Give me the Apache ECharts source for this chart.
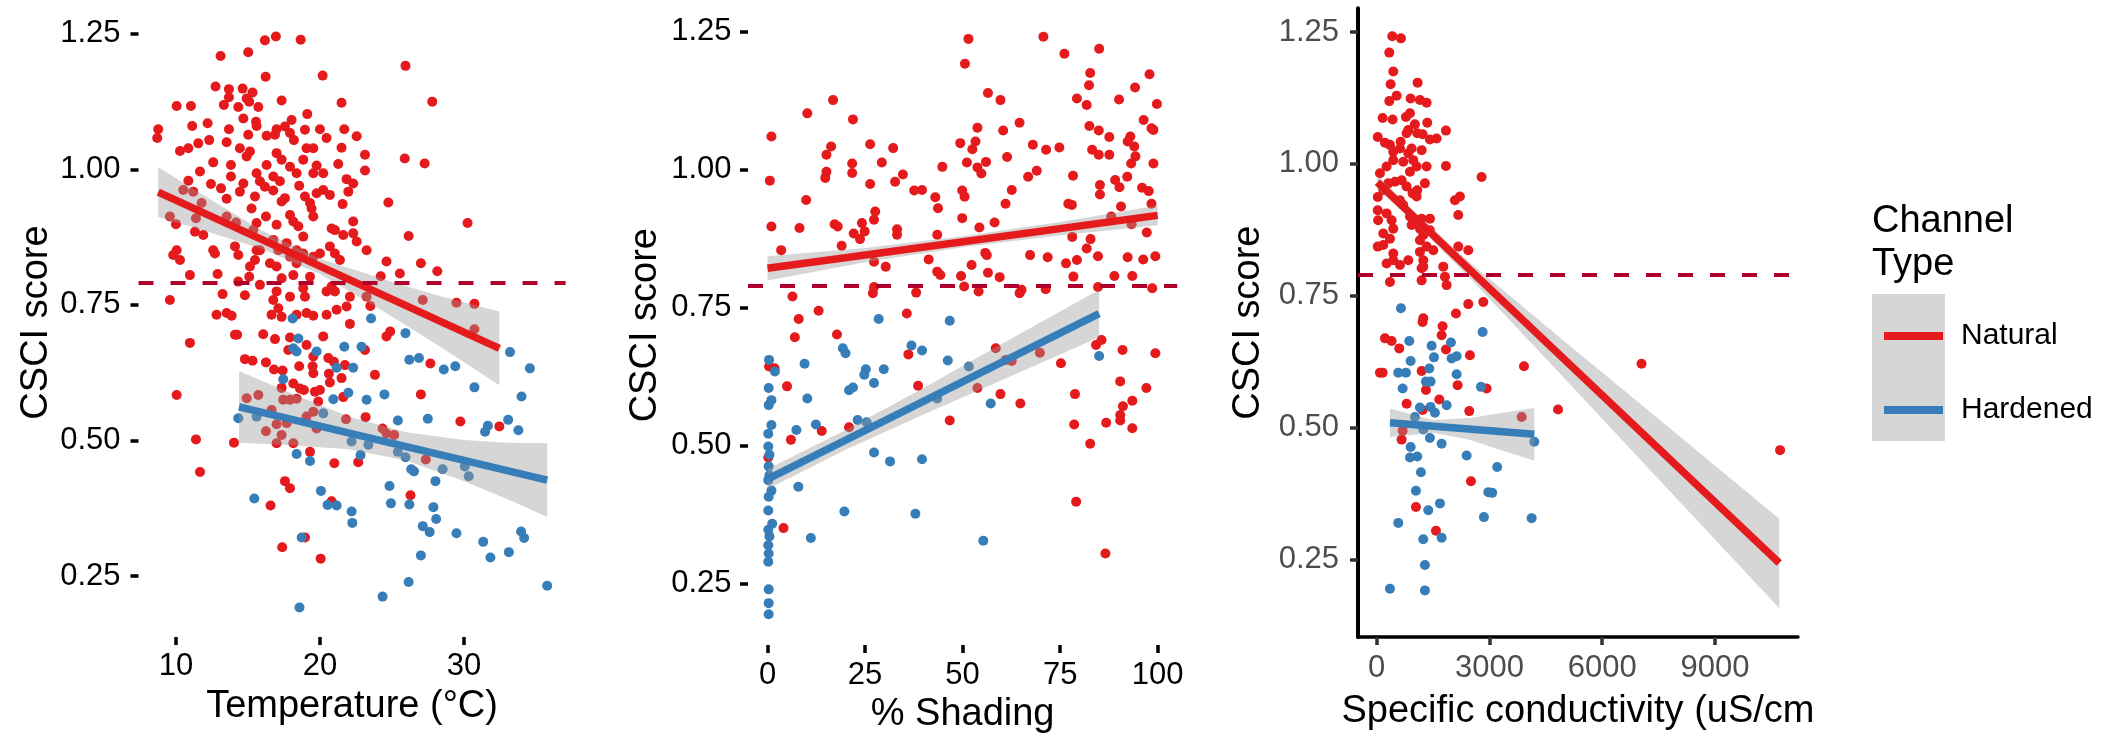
<!DOCTYPE html>
<html><head><meta charset="utf-8">
<script src="https://cdn.jsdelivr.net/npm/echarts@6/dist/echarts.min.js"></script>
<style>html,body{margin:0;padding:0;background:#fff}#chart{width:2115px;height:739px}</style>
</head><body><div id="chart"></div>
<script>
// ---------------- DATA ----------------
const yTicks = [0.25, 0.5, 0.75, 1.0, 1.25];
const tempTicks = [10, 20, 30];
const shadeTicks = [0, 25, 50, 75, 100];
const condTicks = [0, 3000, 6000, 9000];
const threshold = 0.79;

// Panel 1: Temperature (°C) vs CSCI score
const tempNatural = [
[16.18,1.238],[16.94,1.245],[18.66,1.239],[13.10,1.209],[15.02,1.216],[16.23,1.171],[20.19,1.173],[12.75,1.153],[13.68,1.148],[14.63,1.149],[15.32,1.142],[13.68,1.133],[14.91,1.131],[17.34,1.127],[21.50,1.123],[10.05,1.117],[11.04,1.117],[13.33,1.119],[14.33,1.115],[15.09,1.125],[15.72,1.115],[19.12,1.102],[14.68,1.094],[15.56,1.088],[18.03,1.091],[8.77,1.074],[8.70,1.058],[11.13,1.080],[12.20,1.085],[13.68,1.074],[15.02,1.064],[15.60,1.080],[16.99,1.074],[17.57,1.079],[18.96,1.073],[20.00,1.074],[21.69,1.074],[22.55,1.061],[10.28,1.034],[10.86,1.039],[11.55,1.048],[12.31,1.054],[13.52,1.050],[14.44,1.039],[16.30,1.062],[16.88,1.064],[17.92,1.067],[18.19,1.054],[19.54,1.039],[19.07,1.039],[20.46,1.058],[21.50,1.040],[23.13,1.027],[12.59,1.013],[11.67,0.996],[13.82,1.008],[14.91,1.024],[15.14,1.033],[16.99,1.030],[17.34,1.018],[17.92,1.005],[16.30,1.008],[18.84,1.018],[19.77,1.007],[20.23,0.993],[21.27,1.010],[23.13,0.998],[10.86,0.979],[12.43,0.973],[13.13,0.965],[13.82,0.987],[14.68,0.974],[15.60,0.993],[15.83,0.978],[16.76,0.987],[17.22,0.978],[18.38,0.993],[18.56,0.970],[19.54,0.993],[19.77,0.956],[20.23,0.962],[20.69,0.953],[21.85,0.982],[22.31,0.974],[21.97,0.959],[10.51,0.962],[11.20,0.959],[11.78,0.938],[13.52,0.946],[14.44,0.959],[15.49,0.950],[16.18,0.968],[16.76,0.961],[17.34,0.941],[17.57,0.947],[18.96,0.950],[19.31,0.938],[19.42,0.928],[19.54,0.913],[21.57,0.936],[9.58,0.913],[10.00,0.899],[11.39,0.910],[11.32,0.885],[11.90,0.879],[13.52,0.913],[14.17,0.902],[15.25,0.928],[15.60,0.901],[16.25,0.913],[16.99,0.898],[17.92,0.916],[18.15,0.904],[18.50,0.895],[18.84,0.876],[20.81,0.891],[21.04,0.888],[21.62,0.879],[22.31,0.904],[22.31,0.882],[22.55,0.867],[10.05,0.851],[9.81,0.842],[10.28,0.833],[12.59,0.851],[12.71,0.845],[14.10,0.858],[14.33,0.842],[15.37,0.888],[15.60,0.851],[15.49,0.833],[15.83,0.851],[16.76,0.870],[17.11,0.851],[17.69,0.864],[17.92,0.839],[18.38,0.851],[18.84,0.845],[19.54,0.839],[20.00,0.845],[20.69,0.858],[21.04,0.845],[21.39,0.833],[23.24,0.851],[10.97,0.805],[12.89,0.807],[14.33,0.793],[15.09,0.802],[15.14,0.821],[15.83,0.787],[16.53,0.827],[16.99,0.821],[17.34,0.799],[18.15,0.805],[18.38,0.827],[19.31,0.802],[20.81,0.784],[22.08,0.765],[23.24,0.765],[9.58,0.759],[13.24,0.770],[14.79,0.768],[16.76,0.759],[16.99,0.775],[17.92,0.765],[18.96,0.765],[18.84,0.781],[20.46,0.775],[21.04,0.775],[12.82,0.732],[13.52,0.735],[13.87,0.730],[16.64,0.732],[17.11,0.744],[17.34,0.728],[18.38,0.732],[19.07,0.735],[19.54,0.730],[20.46,0.732],[21.16,0.741],[21.85,0.747],
[22.08,0.715],[10.97,0.680],[14.10,0.695],[14.25,0.695],[16.06,0.696],[16.88,0.687],[17.92,0.690],[19.07,0.676],[20.23,0.692],[17.80,0.667],[23.13,0.667],[14.79,0.650],[15.32,0.647],[16.25,0.644],[16.81,0.631],[17.41,0.629],[18.56,0.637],[19.54,0.655],[19.49,0.637],[19.54,0.624],[20.58,0.652],[20.97,0.645],[21.74,0.639],[18.15,0.605],[17.34,0.597],[18.61,0.596],[18.89,0.593],[20.69,0.607],[21.50,0.615],[20.62,0.623],[19.65,0.590],[20.00,0.593],[19.88,0.572],[21.62,0.580],[10.05,0.584],[14.91,0.578],[15.72,0.584],[17.45,0.575],[17.92,0.575],[18.38,0.577],[16.64,0.556],[16.99,0.530],[16.25,0.517],[17.34,0.510],[16.99,0.495],[18.15,0.495],[17.69,0.532],[19.07,0.544],[19.54,0.553],[19.77,0.522],[21.81,0.539],[23.17,0.543],[11.39,0.502],[14.03,0.496],[19.31,0.479],[21.00,0.458],[22.66,0.460],[11.67,0.442],[17.57,0.425],[17.92,0.412],[16.57,0.380],[20.81,0.388],[18.96,0.321],[17.38,0.303],[20.05,0.282],
[25.94,1.191],[27.80,1.125],[25.89,1.020],[27.27,1.011],[24.75,0.939],[30.25,0.901],[26.16,0.877],[27.01,0.827],[28.15,0.812],[25.55,0.808],[24.22,0.803],[24.62,0.830],[27.14,0.759],[29.48,0.754],[30.73,0.752],[30.73,0.705],[23.50,0.748],[24.88,0.701],[24.62,0.692],[27.67,0.642],
[23.82,0.621],[27.01,0.585],[29.75,0.535],[32.46,0.526],[24.35,0.522],[24.62,0.513],[25.15,0.510],[27.35,0.465],[26.29,0.399]
];
const tempHardened = [
[18.10,0.725],[18.50,0.688],[18.15,0.670],[18.38,0.664],[19.77,0.664],[21.69,0.673],[22.89,0.673],[21.16,0.634],[22.31,0.634],[17.45,0.613],[21.97,0.588],[20.93,0.576],[23.24,0.575],[14.33,0.541],[15.60,0.544],[20.23,0.550],[22.20,0.498],[23.36,0.492],[18.38,0.475],[19.31,0.462],[22.82,0.473],[20.07,0.407],[15.44,0.393],[20.53,0.381],[21.16,0.380],[22.20,0.369],[22.25,0.348],[18.73,0.321],[23.55,0.725],[25.94,0.698],[26.21,0.649],[26.88,0.652],[28.60,0.631],[29.40,0.637],[33.20,0.663],[34.58,0.633],[24.48,0.585],[30.73,0.598],[34.00,0.581],[25.41,0.537],[27.49,0.540],[31.47,0.516],[31.66,0.527],[33.07,0.538],[33.78,0.519],[25.41,0.479],[25.94,0.469],[26.34,0.447],[26.53,0.443],[28.52,0.447],[30.06,0.452],[30.33,0.434],[28.02,0.425],[24.83,0.416],[24.93,0.384],[26.21,0.382],[27.88,0.377],[28.07,0.355],[27.14,0.342],[27.62,0.331],[29.48,0.329],[31.34,0.313],[31.84,0.284],[33.12,0.294],[33.97,0.332],[34.18,0.320],[27.01,0.288],[26.16,0.239],[24.35,0.212],[35.78,0.232],[18.58,0.192]
];
const tempFitNatural = [[8.77,0.958],[32.46,0.670]];
const tempFitHardened = [[14.38,0.562],[35.78,0.427]];
const tempBandNatural = [[8.77,0.912,1.004],[12,0.887,0.951],[16,0.853,0.887],[20,0.807,0.835],[24,0.745,0.801],[28,0.679,0.769],[32.46,0.602,0.738]];
const tempBandHardened = [[14.38,0.496,0.628],[18,0.491,0.587],[22,0.484,0.544],[26,0.463,0.515],[30,0.425,0.501],[33,0.392,0.496],[35.78,0.359,0.495]];

// Panel 2: % Shading vs CSCI score
const shadeNatural = [
[51.5,1.237],[70.7,1.241],[50.6,1.192],[76.1,1.210],[85.0,1.219],[97.9,1.173],[82.7,1.175],[82.4,1.153],[94.2,1.149],[16.8,1.126],[10.2,1.102],[21.9,1.091],[56.5,1.139],[59.7,1.126],[79.3,1.129],[81.8,1.117],[90.1,1.127],[99.8,1.119],
[1.0,1.060],[53.8,1.076],[64.6,1.085],[60.4,1.071],[82.5,1.079],[84.9,1.071],[87.6,1.059],[96.4,1.090],[98.4,1.075],[93.0,1.060],[92.3,1.051],[94.0,1.042],[98.9,1.072],[49.4,1.048],[53.3,1.051],[52.5,1.037],[68.0,1.045],[71.4,1.036],[74.8,1.040],[16.3,1.042],[15.1,1.027],[26.3,1.046],[32.2,1.039],[83.2,1.036],[84.9,1.027],[87.6,1.027],[94.3,1.024],[21.7,1.011],[21.7,0.994],[29.3,1.013],[44.8,1.005],[51.1,1.013],[56.0,1.014],[53.8,1.004],[54.8,0.993],[61.4,1.023],[69.0,0.998],[66.8,0.987],[93.2,1.011],[92.2,0.987],[98.9,1.011],[78.3,0.989],[0.6,0.980],[15.1,0.996],[14.8,0.985],[34.7,0.991],[32.7,0.978],[26.3,0.974],[37.6,0.962],[39.6,0.963],[43.0,0.950],[43.7,0.930],[49.9,0.962],[50.5,0.951],[62.6,0.963],[61.0,0.938],[85.2,0.972],[85.2,0.955],[89.1,0.981],[90.2,0.968],[90.6,0.933],[96.0,0.967],[97.7,0.961],[77.1,0.938],[78.0,0.936],[98.4,0.938],[9.9,0.945],[1.0,0.897],[8.2,0.894],[27.6,0.924],[27.3,0.909],[24.2,0.903],[24.9,0.888],[23.7,0.874],[17.2,0.901],[18.0,0.897],[22.1,0.884],[33.2,0.892],[33.2,0.882],[43.5,0.882],[49.9,0.912],[54.3,0.895],[58.2,0.904],[78.1,0.878],[82.8,0.874],[97.2,0.886],[93.3,0.901],[88.1,0.915],[3.5,0.854],[19.0,0.862],[27.3,0.833],[30.3,0.824],[41.3,0.837],[43.5,0.815],[44.3,0.809],[52.3,0.827],[55.8,0.849],[56.2,0.845],[56.5,0.813],[49.6,0.807],[59.5,0.805],[67.3,0.845],[71.8,0.841],[76.5,0.830],[79.3,0.836],[81.8,0.857],[84.7,0.843],[78.4,0.806],[88.9,0.807],[92.3,0.841],[93.5,0.807],[96.3,0.837],[99.4,0.843],[50.4,0.788],[54.1,0.779],[65.1,0.782],[64.6,0.776],[71.3,0.783],[84.7,0.787],[98.6,0.785],[27.3,0.787],[27.0,0.776],[38.1,0.777],[6.4,0.770],[8.0,0.729],[7.0,0.696],[13.1,0.744],[35.7,0.739],[17.8,0.701],[36.1,0.665],[58.5,0.676],[69.8,0.668],[84.2,0.682],[85.6,0.691],[91.0,0.673],[99.4,0.667],[75.2,0.649],[61.1,0.655],[62.6,0.653],[0.4,0.643],[1.8,0.640],
[5.0,0.607],[13.9,0.526],[6.0,0.510],[20.9,0.533],[38.6,0.608],[53.8,0.604],[59.7,0.593],[64.8,0.576],[46.7,0.545],[78.8,0.593],[78.6,0.538],[82.7,0.503],[86.8,0.541],[90.4,0.616],[91.1,0.571],[90.4,0.555],[90.4,0.545],[93.5,0.581],[93.5,0.531],[97.1,0.604],[79.1,0.398],[86.6,0.304],[4.1,0.350],[0.2,0.478]
];
const shadeHardened = [
[28.5,0.729],[46.7,0.726],[19.3,0.676],[20.0,0.667],[36.9,0.681],[39.6,0.672],[0.4,0.655],[9.5,0.648],[46.2,0.654],[85.0,0.662],[51.6,0.643],[25.2,0.638],[29.8,0.638],
[10.2,0.585],[20.9,0.600],[21.9,0.605],[24.8,0.628],[27.3,0.613],[57.2,0.576],[43.5,0.585],[7.4,0.528],[12.4,0.538],[23.1,0.546],[25.4,0.542],[27.3,0.487],[31.4,0.471],[39.6,0.475],[7.9,0.425],[19.7,0.380],[37.9,0.376],[11.1,0.332],[55.3,0.327],
[0.3,0.604],[1.0,0.582],[0.3,0.573],[1.0,0.537],[0.2,0.521],[0.2,0.498],[0.5,0.483],[0.3,0.462],[0.5,0.446],[0.2,0.437],[1.0,0.418],[0.3,0.407],[0.2,0.382],[1.2,0.358],[0.2,0.347],[0.5,0.335],[0.2,0.319],[0.3,0.304],[0.2,0.289],[0.3,0.239],[0.3,0.214],[0.3,0.194],[1.9,0.634]
];
const shadeFitNatural = [[0,0.821],[100,0.917]];
const shadeFitHardened = [[0,0.439],[85,0.739]];
const shadeBandNatural = [[0,0.799,0.843],[25,0.832,0.858],[50,0.859,0.879],[75,0.881,0.905],[100,0.899,0.935]];
const shadeBandHardened = [[0,0.421,0.457],[20,0.492,0.528],[40,0.556,0.604],[60,0.618,0.684],[85,0.696,0.782]];

// Panel 3: Specific conductivity (uS/cm) vs CSCI score
const condNatural = [
[417,1.242],[647,1.238],[337,1.211],[443,1.175],[372,1.151],[1090,1.154],[532,1.129],[337,1.119],[904,1.124],[1152,1.121],[1330,1.116],[160,1.087],[426,1.084],[780,1.089],[887,1.096],[1019,1.075],[1347,1.078],[1844,1.063],[30,1.051],[222,1.040],[355,1.036],[638,1.042],[798,1.058],[842,1.064],[1081,1.058],[1223,1.056],[1418,1.046],[1596,1.048],[443,1.023],[621,1.029],[842,1.020],[931,1.029],[1197,1.026],[1330,0.995],[1844,0.996],[89,0.982],[266,0.995],[443,1.007],[709,1.004],[887,0.985],[1064,0.995],[975,1.007],[310,0.963],[488,0.966],[665,0.969],[798,0.957],[957,0.944],[1081,0.950],[1285,0.963],[30,0.937],[177,0.950],[621,0.931],[709,0.922],[1064,0.938],[2083,0.931],[2216,0.938],[2172,0.903],[2792,0.975],[30,0.912],[40,0.893],[266,0.906],[399,0.893],[443,0.877],[177,0.868],[887,0.900],[931,0.884],[1064,0.893],[1197,0.896],[1418,0.896],[1418,0.874],[1152,0.877],[1241,0.865],[30,0.843],[177,0.846],[355,0.858],[443,0.830],[266,0.811],[443,0.817],[1152,0.855],[1152,0.833],[1330,0.843],[1507,0.836],[1241,0.817],[1241,0.805],[621,0.808],[842,0.817],[1197,0.802],[2172,0.843],[2438,0.836],[1773,0.805],[1817,0.786],[1862,0.770],[355,0.776],[1197,0.779],[2110,0.716],[2438,0.734],[2837,0.738],[1241,0.707],
[222,0.669],[399,0.664],[603,0.650],[1223,0.700],[1755,0.692],[1729,0.675],[1844,0.648],[2482,0.637],[89,0.604],[160,0.604],[1197,0.607],[1312,0.571],[2154,0.580],[1667,0.553],[798,0.545],[1223,0.533],[2464,0.531],[692,0.494],[665,0.477],[2509,0.398],[1046,0.349],[1578,0.304],[2925,0.574],
[7045,0.621],[3919,0.616],[4825,0.534],[3858,0.520],[10730,0.457]
];
const condHardened = [
[647,0.726],[869,0.664],[1463,0.655],[1977,0.661],[1525,0.633],[1995,0.631],[2128,0.635],[904,0.626],[1401,0.612],[576,0.604],[780,0.604],[2128,0.601],[1312,0.587],[1436,0.587],[692,0.574],[2819,0.681],[2775,0.577],[1152,0.538],[1436,0.539],[1551,0.528],[1862,0.542],[1019,0.520],[1241,0.496],[904,0.463],[887,0.443],[1081,0.445],[1418,0.480],[1729,0.469],[2394,0.447],[1179,0.415],[1046,0.380],[1684,0.356],[1374,0.343],[576,0.319],[2854,0.330],[1241,0.288],[1729,0.291],[2970,0.377],[1285,0.239],[355,0.194],[1285,0.191],[4194,0.473],[3207,0.425],[3074,0.376],[4123,0.328]
];
const condFitNatural = [[20,0.965],[10709,0.243]];
const condFitHardened = [[355,0.509],[4194,0.487]];
const condBandNatural = [[20,0.952,0.978],[1000,0.889,0.909],[2500,0.782,0.812],[5000,0.593,0.663],[7500,0.402,0.516],[10709,0.157,0.327]];
const condBandHardened = [[355,0.482,0.536],[1500,0.490,0.514],[2500,0.476,0.518],[3014,0.464,0.524],[4194,0.437,0.537]];

// ---------------- STYLE / LAYOUT ----------------
const RED = '#E41A1C', BLUE = '#377EB8', BAND = 'rgba(153,153,153,0.4)', HLINE = '#B0002C';
const FONT = '"Liberation Sans", Arial, Helvetica, sans-serif';
const TICK_FS = 31, TITLE_FS = 38;

const panels = [
  { grid: {left: 138.5, top: 8, width: 427.1, height: 629},
    xmin: 7.4, xmax: 37.06, ymin: 0.1375, ymax: 1.2977, xticks: tempTicks,
    xname: 'Temperature (°C)', xgap: 51, xmargin: 14, ygap: 83, ymargin: 18, framed: false,
    nat: tempNatural, hard: tempHardened, fitN: tempFitNatural, fitH: tempFitHardened, bandN: tempBandNatural, bandH: tempBandHardened },
  { grid: {left: 748, top: 5.4, width: 429.2, height: 639.6},
    xmin: -5, xmax: 105, ymin: 0.1381, ymax: 1.2977, xticks: shadeTicks,
    xname: '% Shading', xgap: 51, xmargin: 15, ygap: 83, ymargin: 16.5, framed: false,
    nat: shadeNatural, hard: shadeHardened, fitN: shadeFitNatural, fitH: shadeFitHardened, bandN: shadeBandNatural, bandH: shadeBandHardened },
  { grid: {left: 1358, top: 8.3, width: 440, height: 628.7},
    xmin: -495, xmax: 11207, ymin: 0.1026, ymax: 1.295, xticks: condTicks,
    xname: 'Specific conductivity (uS/cm', xgap: 56, xmargin: 16, ygap: 90, ymargin: 19, framed: true,
    nat: condNatural, hard: condHardened, fitN: condFitNatural, fitH: condFitHardened, bandN: condBandNatural, bandH: condBandHardened }
];

function bandRenderer(band) {
  return function (params, api) {
    if (params.dataIndex !== 0) return null;
    const upper = band.map(r => api.coord([r[0], r[2]]));
    const lower = band.slice().reverse().map(r => api.coord([r[0], r[1]]));
    return { type: 'polygon', shape: { points: upper.concat(lower) }, style: { fill: BAND } };
  };
}

const grids = [], xAxes = [], yAxes = [], series = [];
panels.forEach((p, i) => {
  grids.push(Object.assign({ containLabel: false }, p.grid));
  const labelColor = p.framed ? '#4D4D4D' : '#000';
  const tickColor = p.framed ? '#333333' : '#000';
  xAxes.push({
    type: 'value', gridIndex: i, min: p.xmin, max: p.xmax,
    axisLine: { show: p.framed, onZero: false, lineStyle: { color: '#000', width: 3.5 } },
    axisTick: { show: true, length: 8, customValues: p.xticks, lineStyle: { color: tickColor, width: 3.5 } },
    axisLabel: { customValues: p.xticks, margin: p.xmargin, fontSize: TICK_FS, fontFamily: FONT, color: labelColor,
                 formatter: v => String(v) },
    splitLine: { show: false },
    name: p.xname, nameLocation: 'middle', nameGap: p.xgap,
    nameTextStyle: { fontSize: TITLE_FS, fontFamily: FONT, color: '#000' }
  });
  yAxes.push({
    type: 'value', gridIndex: i, min: p.ymin, max: p.ymax,
    axisLine: { show: p.framed, onZero: false, lineStyle: { color: '#000', width: 4 } },
    axisTick: { show: true, length: 8, customValues: yTicks, lineStyle: { color: tickColor, width: 3.5 } },
    axisLabel: { customValues: yTicks, margin: p.ymargin, fontSize: TICK_FS, fontFamily: FONT, color: labelColor,
                 formatter: v => Number(v).toFixed(2) },
    splitLine: { show: false },
    name: 'CSCI score', nameLocation: 'middle', nameGap: p.ygap, nameRotate: 90,
    nameTextStyle: { fontSize: TITLE_FS, fontFamily: FONT, color: '#000' }
  });
  series.push({ name: 'Natural', type: 'scatter', xAxisIndex: i, yAxisIndex: i, data: p.nat,
    symbolSize: 10, itemStyle: { color: RED, opacity: 1 }, z: 2, silent: true });
  series.push({ name: 'Hardened', type: 'scatter', xAxisIndex: i, yAxisIndex: i, data: p.hard,
    symbolSize: 10, itemStyle: { color: BLUE, opacity: 1 }, z: 2, silent: true });
  series.push({ name: 'Natural', type: 'custom', xAxisIndex: i, yAxisIndex: i, data: p.bandN,
    renderItem: bandRenderer(p.bandN), encode: { x: 0, y: [1, 2] }, z: 3, silent: true });
  series.push({ name: 'Natural', type: 'line', xAxisIndex: i, yAxisIndex: i, data: p.fitN,
    showSymbol: false, lineStyle: { color: RED, width: 7.5 }, itemStyle: { color: RED }, z: 4, silent: true });
  series.push({ name: 'Hardened', type: 'custom', xAxisIndex: i, yAxisIndex: i, data: p.bandH,
    renderItem: bandRenderer(p.bandH), encode: { x: 0, y: [1, 2] }, z: 3, silent: true });
  series.push({ name: 'Hardened', type: 'line', xAxisIndex: i, yAxisIndex: i, data: p.fitH,
    showSymbol: false, lineStyle: { color: BLUE, width: 7.5 }, itemStyle: { color: BLUE }, z: 4, silent: true,
    markLine: { silent: true, symbol: 'none', label: { show: false }, animation: false,
      lineStyle: { color: HLINE, width: 4, type: [15, 17] }, data: [{ yAxis: threshold }] } });
});

const chart = echarts.init(document.getElementById('chart'), null, { renderer: 'canvas' });
chart.setOption({
  animation: false,
  backgroundColor: '#fff',
  textStyle: { fontFamily: FONT },
  grid: grids, xAxis: xAxes, yAxis: yAxes, series: series,
  legend: {
    orient: 'vertical', left: 1879, top: 316, itemWidth: 59, itemHeight: 8, itemGap: 44,
    selectedMode: false, z: 10,
    data: [{ name: 'Natural', icon: 'rect' }, { name: 'Hardened', icon: 'rect' }],
    textStyle: { fontSize: 30, fontFamily: FONT, color: '#000', lineHeight: 30, padding: [0, 0, 0, 13] }
  },
  graphic: [
    { type: 'rect', left: 1872, top: 294, z: 1, silent: true, shape: { width: 73, height: 147 }, style: { fill: '#D6D6D6' } },
    { type: 'text', left: 1872, top: 200, z: 1, silent: true,
      style: { text: 'Channel\nType', fontSize: 38, lineHeight: 43, fontFamily: FONT, fill: '#000' } }
  ]
});
</script>
</body></html>
